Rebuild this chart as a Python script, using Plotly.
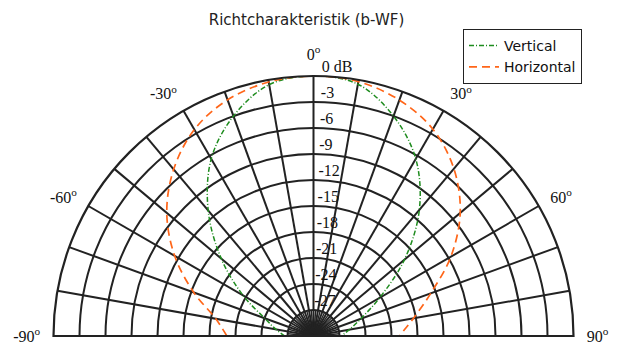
import plotly.graph_objects as go

# ---- data ----
angles = [-90, -80, -70, -60, -50, -40, -30, -20, -10, 0, 10, 20, 30, 40, 50, 60, 70, 80, 90]
vertical_db = [-26.7, -25.6, -24.0, -20.6, -16.1, -11.1, -6.4, -3.0, -0.55, 0.0,
               -0.5, -3.0, -6.4, -11.0, -16.3, -21.2, -24.2, -25.8, -26.8]
horizontal_db = [-20.0, -18.55, -15.3, -11.5, -7.9, -4.9, -2.5, -1.0, -0.24, 0.0,
                 -0.2, -1.03, -2.45, -4.8, -7.9, -11.7, -15.6, -18.3, -20.1]

ring_values = [0, -3, -6, -9, -12, -15, -18, -21, -24, -27]
ring_labels = ["0 dB", "-3", "-6", "-9", "-12", "-15", "-18", "-21", "-24", "-27"]
spoke_angles = list(range(-90, 91, 10))
spoke_labels = [f"{a}<sup>o</sup>" if a % 30 == 0 else "" for a in spoke_angles]
inner_spoke_angles = list(range(-85, 90, 10))
r_min, r_max = -30, 0
inner_spoke_end = -27

GRID = "#222222"
LABEL_ANGLE = 1.8  # small angular offset of the dB labels from the 0° spoke
OFF = 8  # page body margin in the browser

def px_x(x):
    return (x - OFF) / 620

def px_y(y):
    return 1 - (y - OFF) / 345

fig = go.Figure()

# short extra spokes near the centre
th, rr = [], []
for a in inner_spoke_angles:
    th += [a, a, None]
    rr += [r_min, inner_spoke_end, None]
fig.add_trace(go.Scatterpolar(r=rr, theta=th, mode="lines",
                              line=dict(color=GRID, width=1.4),
                              showlegend=False, hoverinfo="skip"))

fig.add_trace(go.Scatterpolar(r=vertical_db, theta=angles, mode="lines", name="Vertical",
                              line=dict(color="#1e8c1e", width=1.5, dash="5px,2px,1px,2px",
                                        shape="spline")))
fig.add_trace(go.Scatterpolar(r=horizontal_db, theta=angles, mode="lines", name="Horizontal",
                              line=dict(color="#ff6619", width=1.7, dash="8px,5px",
                                        shape="spline")))

# radial dB labels
fig.add_trace(go.Scatterpolar(r=ring_values, theta=[LABEL_ANGLE] * len(ring_values), mode="text",
                              text=ring_labels, textposition="top right",
                              textfont=dict(family="Liberation Serif", size=16, color="#111"),
                              showlegend=False, hoverinfo="skip"))

fig.update_layout(
    width=620, height=345,
    margin=dict(l=0, r=0, t=0, b=0),
    paper_bgcolor="white",
    title=dict(text="Richtcharakteristik (b-WF)", x=px_x(306.5), xanchor="center",
               y=px_y(20), yanchor="middle",
               font=dict(family="DejaVu Sans", size=15, color="#222")),
    legend=dict(x=px_x(582), xanchor="right", y=px_y(29), yanchor="top",
                bgcolor="white", bordercolor="#222", borderwidth=1,
                font=dict(family="DejaVu Sans", size=14, color="#111"),
                itemwidth=30, tracegroupgap=0),
    polar=dict(
        domain=dict(x=[px_x(53.5), px_x(573.5)], y=[px_y(336), px_y(76)]),
        sector=[0, 180],
        bgcolor="white",
        angularaxis=dict(rotation=90, direction="clockwise",
                         tickmode="array", tickvals=spoke_angles, ticktext=spoke_labels,
                         showgrid=True, gridcolor=GRID, gridwidth=1.6,
                         showline=True, linecolor=GRID, linewidth=2.2,
                         ticks="outside", ticklen=9, tickcolor="rgba(0,0,0,0)",
                         tickfont=dict(family="Liberation Serif", size=16, color="#111")),
        radialaxis=dict(range=[r_min, r_max], tickmode="array", tickvals=ring_values,
                        showgrid=True, gridcolor=GRID, gridwidth=1.6,
                        showline=False, showticklabels=False, ticks="", angle=90),
    ),
)

fig.write_html("out.html")
